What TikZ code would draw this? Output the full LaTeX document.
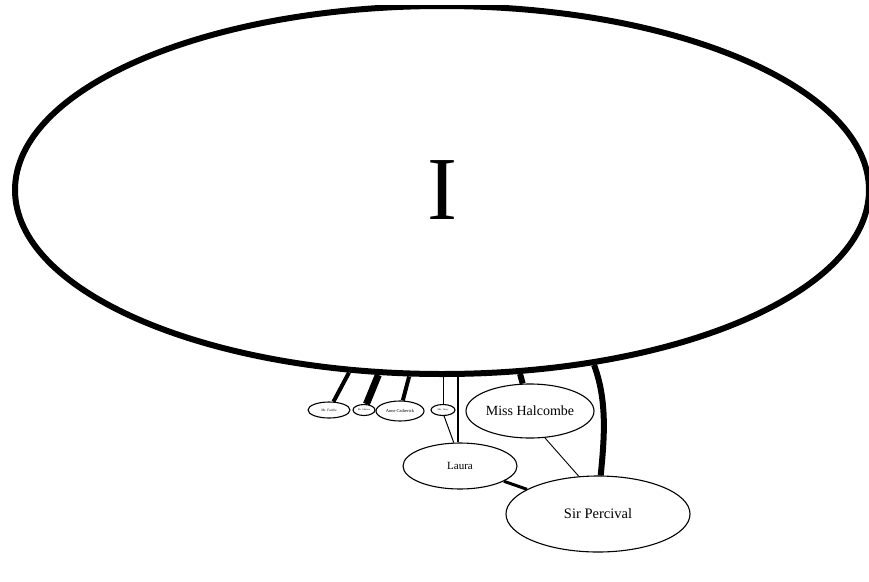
\documentclass[tikz,border=0pt]{standalone}
\usepackage{fontspec}
\setmainfont{Liberation Serif}
\usetikzlibrary{shapes.geometric}
\tikzset{
  ent/.style={draw, ellipse, inner sep=0pt, line width=1.1pt},
  tie/.style={draw, line cap=butt},
}
\begin{document}
\begin{tikzpicture}[x=1pt,y=-1pt]
\path[use as bounding box] (0,0) rectangle (869,581);
\begin{scope}
\clip (0,5) rectangle (869,581);
\node[ent, line width=6pt, minimum width=854pt, minimum height=368pt, font=\fontsize{90}{90}\selectfont] (I) at (442,190) {I};
\node[ent, minimum width=42pt, minimum height=16pt, font=\fontsize{3.5}{4}\selectfont] (fairlie) at (329,410) {Mr. Fairlie};
\node[ent, minimum width=22pt, minimum height=11pt, font=\fontsize{2.4}{3}\selectfont] (gilmore) at (364,410) {Mr. Gilmore};
\node[ent, minimum width=48pt, minimum height=20pt, font=\fontsize{4.5}{5}\selectfont] (anne) at (400,411) {Anne Catherick};
\node[ent, minimum width=24pt, minimum height=11pt, font=\fontsize{2.4}{3}\selectfont] (vesey) at (443,410) {Mrs. Vesey};
\node[ent, minimum width=128pt, minimum height=54pt, font=\fontsize{14}{16}\selectfont] (halcombe) at (530,411) {Miss Halcombe};
\node[ent, minimum width=114pt, minimum height=46pt, font=\fontsize{11}{13}\selectfont] (laura) at (460,466) {Laura};
\node[ent, minimum width=184pt, minimum height=76pt, font=\fontsize{14.5}{16}\selectfont] (percival) at (598,514) {Sir Percival};

\draw[tie, line width=4pt] (I.-117.2) -- (fairlie);
\draw[tie, line width=7pt] (I.-109.1) -- (gilmore);
\draw[tie, line width=4pt] (I.-100.3) -- (anne);
\draw[tie, line width=1pt] (vesey.north) -- (vesey.north |- I.south);
\draw[tie, line width=2pt] ([xshift=-2pt]laura.north) -- ([xshift=-2pt]laura.north |- I.south);
\draw[tie, line width=1pt] (vesey.-80) -- (laura.105);
\draw[tie, line width=6pt] (I.-67.9) -- (halcombe);
\draw[tie, line width=6pt] (I.-49.9) .. controls +(13,35) and +(4,-40) .. (percival.86);
\draw[tie, line width=0.9pt] (halcombe.-61) -- (percival.117);
\draw[tie, line width=3pt] (laura) -- (percival);
\end{scope}
\end{tikzpicture}
\end{document}
